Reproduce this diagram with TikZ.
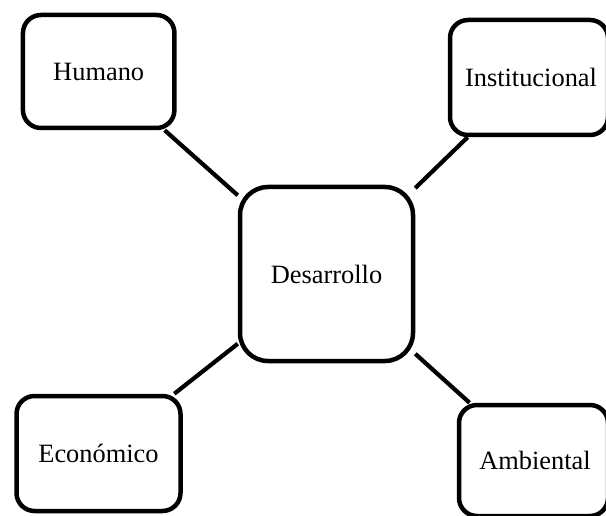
\documentclass[tikz,border=0pt]{standalone}
\usepackage{fontspec}
\setmainfont{Liberation Serif}
\begin{document}
\begin{tikzpicture}[x=1pt,y=-1pt,
  box/.style={draw=black, line width=4.5pt, rounded corners=18pt, fill=white,
    inner sep=0pt, font=\fontsize{26.4}{30}\selectfont},
  bigbox/.style={box, rounded corners=28pt},
  link/.style={line width=4.2pt, black}]
\clip (0,0) rectangle (606,516);
\node[bigbox, minimum width=173pt, minimum height=174pt] (des) at (326.5,274) {Desarrollo};
\node[box, minimum width=151.5pt, minimum height=113pt] (hum) at (98.7,71.5) {Humano};
\node[box, minimum width=158pt, minimum height=115pt, text width=158pt, align=center] (ins) at (529,77.5) {\hspace*{4pt}Institucional};
\node[box, minimum width=164pt, minimum height=115pt] (eco) at (98.5,453.5) {Económico};
\node[box, minimum width=149pt, minimum height=111pt, text width=149pt, align=center] (amb) at (533.5,460.5) {\hspace*{3pt}Ambiental};
\draw[link] (hum) -- (des);
\draw[link] (ins) -- (des);
\draw[link] (eco) -- (des);
\draw[link] (amb) -- (des);
\end{tikzpicture}
\end{document}
